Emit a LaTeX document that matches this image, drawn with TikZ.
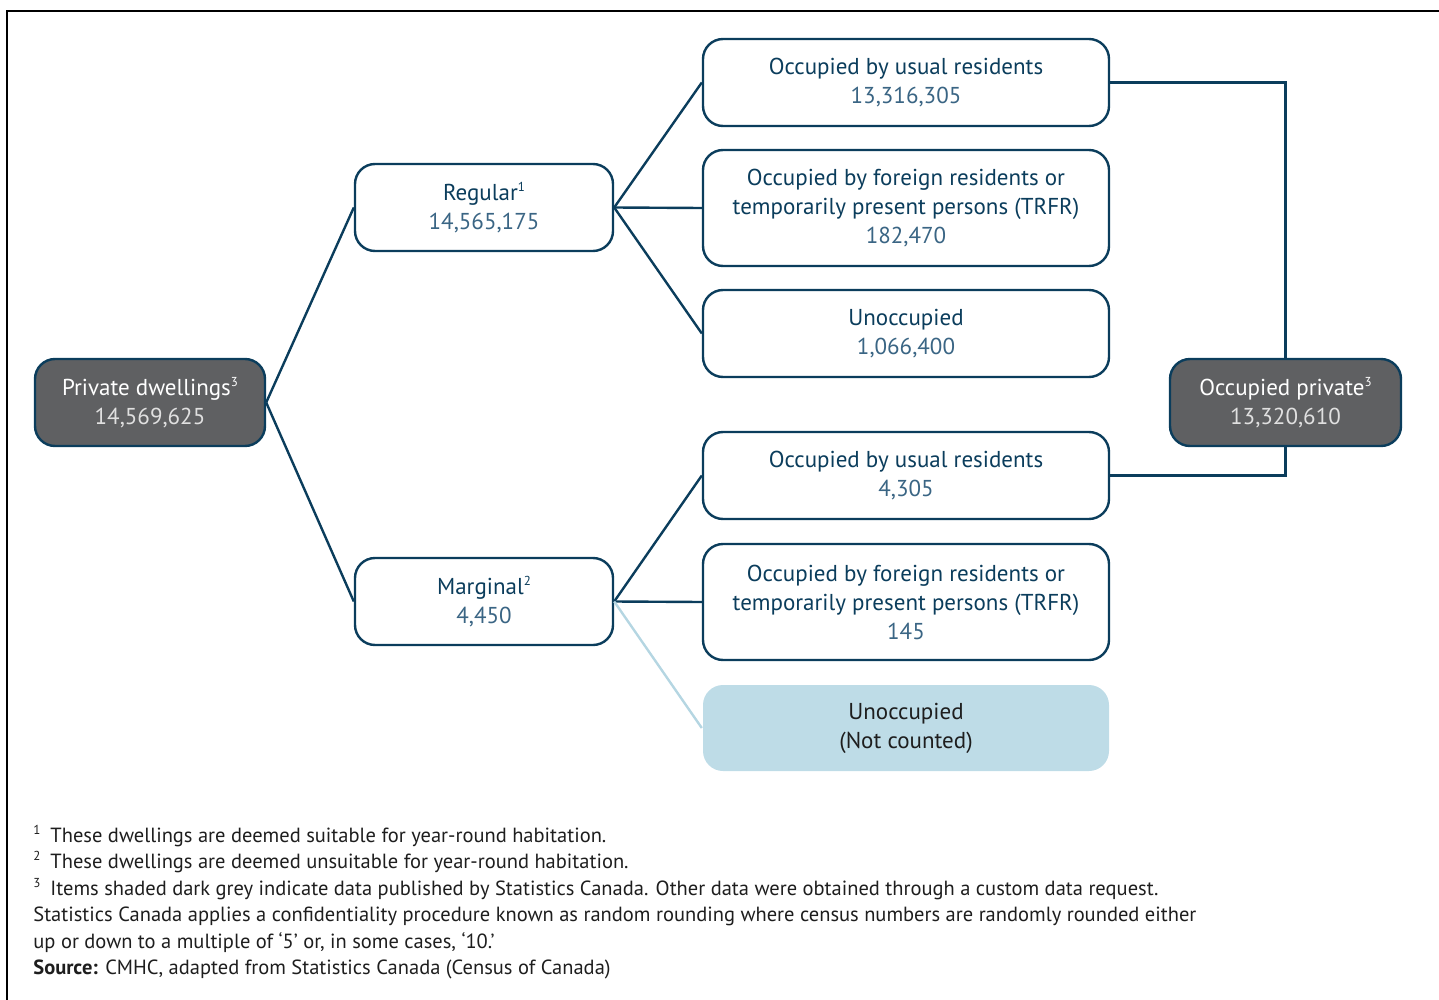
\documentclass[tikz,border=0pt]{standalone}
\usepackage{fontspec}
\setmainfont{PT Sans}
\definecolor{navy}{HTML}{0B3D5C}
\definecolor{numblue}{HTML}{3A6584}
\definecolor{dgrey}{HTML}{5F6062}
\definecolor{lblue}{HTML}{BEDCE7}
\definecolor{lline}{HTML}{B5D6E2}
\definecolor{foot}{HTML}{1E1E1E}
\newcommand{\supmark}[1]{\raisebox{0.75ex}{\fontsize{6.5}{6.5}\selectfont #1}}
\begin{document}
\begin{tikzpicture}[x=0.5pt,y=-0.5pt,
  box/.style={draw=navy, line width=1.2pt, rounded corners=10pt, fill=white,
    align=center, text=navy, minimum width=203pt, minimum height=43.5pt,
    inner sep=0pt, font=\fontsize{11.5}{14.5}\selectfont},
  tallbox/.style={box, minimum height=58pt},
  midbox/.style={box, minimum width=129pt},
  greybox/.style={box, fill=dgrey, text=white, minimum width=115pt},
  nocount/.style={box, draw=none, fill=lblue, text=foot, minimum height=43pt},
  conn/.style={draw=navy, line width=1.2pt},
  lconn/.style={draw=lline, line width=1.2pt},
  fn/.style={anchor=base west, inner sep=0pt, text=foot, font=\fontsize{10.25}{13}\selectfont}
]
\useasboundingbox (0,0) rectangle (1439,1000);
\draw[black, line width=1pt] (7,1001) -- (7,11.5) -- (1440,11.5);

\node[greybox] (pd) at (150,402.5) {Private dwellings\supmark{3}\\\textcolor{white!88!black}{14,569,625}};
\node[midbox] (reg) at (484,207.5) {Regular\supmark{1}\\\textcolor{numblue}{14,565,175}};
\node[midbox] (mar) at (484,601.5) {Marginal\supmark{2}\\\textcolor{numblue}{4,450}};

\node[box] (b1) at (906,82.5) {Occupied by usual residents\\\textcolor{numblue}{13,316,305}};
\node[tallbox] (b2) at (906,208) {Occupied by foreign residents or\\temporarily present persons (TRFR)\\\textcolor{numblue}{182,470}};
\node[box] (b3) at (906,333.5) {Unoccupied\\\textcolor{numblue}{1,066,400}};
\node[box] (b4) at (906,475.5) {Occupied by usual residents\\\textcolor{numblue}{4,305}};
\node[tallbox] (b5) at (906,602) {Occupied by foreign residents or\\temporarily present persons (TRFR)\\\textcolor{numblue}{145}};
\node[nocount] (b6) at (906,728) {Unoccupied\\(Not counted)};

\node[greybox, minimum width=115.5pt] (op) at (1285.5,402.5) {Occupied private\supmark{3}\\\textcolor{white!88!black}{13,320,610}};

\draw[conn] (pd.east) -- (reg.west);
\draw[conn] (pd.east) -- (mar.west);
\draw[conn] (reg.east) -- (b1.west);
\draw[conn] (reg.east) -- (b2.west);
\draw[conn] (reg.east) -- (b3.west);
\draw[conn] (mar.east) -- (b4.west);
\draw[conn] (mar.east) -- (b5.west);
\draw[lconn] (mar.east) -- (b6.west);
\draw[conn] (b1.east) -| (op.north);
\draw[conn] (b4.east) -| (op.south);

\node[fn] (f1) at (33,842) {\supmark{1}\hspace{5pt}These dwellings are deemed suitable for year-round habitation.};
\node[fn] (f2) at (33,868.5) {\supmark{2}\hspace{5pt}These dwellings are deemed unsuitable for year-round habitation.};
\node[fn] (f3) at (33,895) {\supmark{3}\hspace{5pt}Items shaded dark grey indicate data published by Statistics Canada. Other data were obtained through a custom data request.};
\node[fn] (f4) at (33,921.5) {Statistics Canada applies a confidentiality procedure known as random rounding where census numbers are randomly rounded either};
\node[fn] (f5) at (33,948) {up or down to a multiple of ‘5’ or, in some cases, ‘10.’};
\node[fn] (f6) at (33,974.5) {\textbf{Source:} CMHC, adapted from Statistics Canada (Census of Canada)};
\end{tikzpicture}
\end{document}
